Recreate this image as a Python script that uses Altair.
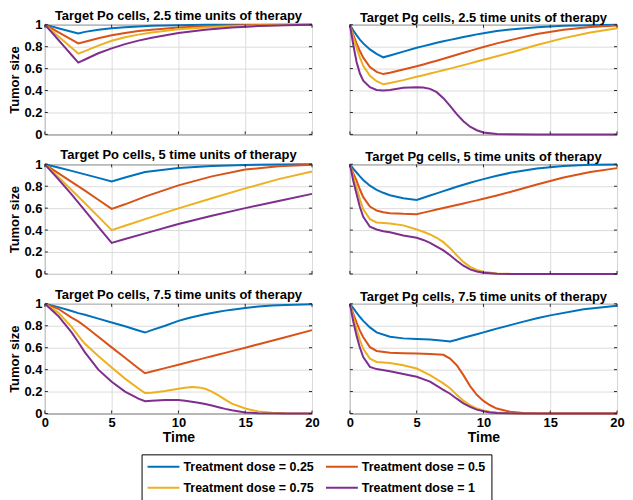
import altair as alt
import pandas as pd

FONT = "Liberation Sans"
W, H = 268, 110

doses = ["Treatment dose = 0.25", "Treatment dose = 0.5",
         "Treatment dose = 0.75", "Treatment dose = 1"]
colors = ["#0072BD", "#D95319", "#EDB120", "#7E2F8E"]

x_ticks = [0, 5, 10, 15, 20]
y_ticks = [0, 0.2, 0.4, 0.6, 0.8, 1]

titles = [
    "Target Po cells, 2.5 time units of therapy",
    "Target Pg cells, 2.5 time units of therapy",
    "Target Po cells, 5 time units of therapy",
    "Target Pg cells, 5 time units of therapy",
    "Target Po cells, 7.5 time units of therapy",
    "Target Pg cells, 7.5 time units of therapy",
]

# Panel A: Po, 2.5
tA = [0, 0.5, 1, 1.5, 2, 2.5, 3, 4, 5, 6, 7, 8, 10, 12, 14, 16, 18, 20]
A_025 = [1, 0.985, 0.968, 0.952, 0.936, 0.92, 0.935, 0.955, 0.968, 0.978, 0.985, 0.99, 0.996, 0.999, 1, 1, 1, 1]
A_05 = [1, 0.967, 0.933, 0.899, 0.865, 0.83, 0.845, 0.877, 0.904, 0.925, 0.942, 0.955, 0.974, 0.986, 0.993, 0.997, 0.999, 1]
A_075 = [1, 0.948, 0.895, 0.843, 0.79, 0.737, 0.76, 0.81, 0.854, 0.886, 0.91, 0.93, 0.958, 0.975, 0.986, 0.993, 0.997, 1]
A_1 = [1, 0.932, 0.863, 0.794, 0.724, 0.655, 0.683, 0.74, 0.785, 0.823, 0.855, 0.882, 0.925, 0.955, 0.975, 0.988, 0.995, 1]

# Panel B: Pg, 2.5
tB = [0, 0.25, 0.5, 0.75, 1, 1.5, 2, 2.5, 3, 4, 5, 5.5, 6, 6.5, 7, 7.5, 8, 8.5, 9, 9.5, 10, 11, 12, 14, 16, 18, 20]
B_025 = [1, 0.95, 0.905, 0.865, 0.83, 0.775, 0.735, 0.703, 0.72, 0.755, 0.79, 0.805, 0.82, 0.835, 0.85,
         0.862, 0.875, 0.888, 0.9, 0.912, 0.923, 0.942, 0.957, 0.978, 0.99, 0.996, 0.999]
B_05 = [1, 0.91, 0.83, 0.76, 0.70, 0.615, 0.57, 0.55, 0.562, 0.592, 0.622, 0.638, 0.655, 0.672, 0.69,
        0.708, 0.726, 0.744, 0.762, 0.78, 0.797, 0.83, 0.86, 0.915, 0.955, 0.98, 0.993]
B_075 = [1, 0.885, 0.79, 0.70, 0.625, 0.535, 0.485, 0.457, 0.468, 0.495, 0.525, 0.54, 0.555, 0.57, 0.585,
         0.6, 0.616, 0.632, 0.648, 0.664, 0.68, 0.712, 0.745, 0.815, 0.878, 0.93, 0.968]
B_1 = [1, 0.82, 0.66, 0.555, 0.49, 0.43, 0.405, 0.40, 0.405, 0.425, 0.43, 0.428, 0.415, 0.385, 0.33,
       0.26, 0.185, 0.12, 0.07, 0.038, 0.018, 0.004, 0.001, 0, 0, 0, 0]

# Panel C: Po, 5
tC = [0, 1, 2, 3, 4, 5, 6, 7.5, 10, 12.5, 15, 17.5, 20]
C_025 = [1, 0.97, 0.94, 0.908, 0.876, 0.843, 0.88, 0.93, 0.967, 0.985, 0.994, 0.998, 1]
C_05 = [1, 0.92, 0.84, 0.76, 0.677, 0.593, 0.635, 0.705, 0.808, 0.89, 0.952, 0.983, 0.995]
C_075 = [1, 0.885, 0.765, 0.645, 0.523, 0.40, 0.44, 0.50, 0.598, 0.69, 0.78, 0.865, 0.935]
C_1 = [1, 0.865, 0.725, 0.578, 0.43, 0.283, 0.318, 0.37, 0.455, 0.53, 0.6, 0.665, 0.73]

# Panel D: Pg, 5
tD = [0, 0.25, 0.5, 0.75, 1, 1.5, 2, 2.5, 3, 4, 5, 5.5, 6, 6.5, 7, 7.5, 8, 8.5, 9, 9.5, 10, 11, 12, 14, 16, 18, 20]
D_025 = [1, 0.96, 0.925, 0.89, 0.857, 0.805, 0.767, 0.74, 0.718, 0.69, 0.675, 0.695, 0.715, 0.735, 0.755,
         0.775, 0.795, 0.813, 0.831, 0.849, 0.865, 0.895, 0.922, 0.962, 0.985, 0.995, 0.999]
D_05 = [1, 0.92, 0.85, 0.77, 0.70, 0.615, 0.578, 0.562, 0.554, 0.548, 0.545, 0.559, 0.573, 0.587, 0.601,
        0.615, 0.629, 0.643, 0.657, 0.671, 0.685, 0.715, 0.747, 0.815, 0.88, 0.93, 0.965]
D_075 = [1, 0.89, 0.79, 0.68, 0.59, 0.50, 0.47, 0.465, 0.46, 0.443, 0.405, 0.385, 0.36, 0.33, 0.29,
         0.235, 0.17, 0.11, 0.065, 0.037, 0.02, 0.005, 0.001, 0, 0, 0, 0]
D_1 = [1, 0.85, 0.73, 0.61, 0.52, 0.43, 0.405, 0.39, 0.38, 0.35, 0.33, 0.31, 0.283, 0.25, 0.215,
       0.17, 0.12, 0.075, 0.042, 0.022, 0.01, 0.002, 0, 0, 0, 0, 0]

# Panel E: Po, 7.5
tE = [0, 1, 2, 2.5, 3, 4, 5, 6, 7, 7.5, 8, 9, 10, 10.5, 11, 11.5, 12, 12.5, 13, 13.5, 14, 15, 16, 17, 18, 20]
E_025 = [1, 0.97, 0.935, 0.915, 0.9, 0.865, 0.83, 0.795, 0.757, 0.738, 0.76, 0.8, 0.845, 0.862, 0.878,
         0.892, 0.905, 0.917, 0.928, 0.938, 0.947, 0.962, 0.975, 0.984, 0.99, 0.997]
E_05 = [1, 0.955, 0.875, 0.84, 0.795, 0.7, 0.603, 0.508, 0.413, 0.367, 0.383, 0.414, 0.445, 0.46, 0.476,
        0.491, 0.507, 0.522, 0.538, 0.553, 0.569, 0.6, 0.632, 0.664, 0.696, 0.76]
E_075 = [1, 0.92, 0.79, 0.71, 0.635, 0.525, 0.42, 0.318, 0.228, 0.187, 0.19, 0.205, 0.225, 0.235, 0.241,
         0.238, 0.225, 0.2, 0.165, 0.127, 0.09, 0.045, 0.018, 0.006, 0.002, 0]
E_1 = [1, 0.89, 0.74, 0.65, 0.557, 0.40, 0.29, 0.2, 0.135, 0.112, 0.116, 0.124, 0.123, 0.117, 0.108,
       0.098, 0.086, 0.072, 0.057, 0.042, 0.029, 0.01, 0.003, 0.001, 0, 0]

# Panel F: Pg, 7.5
tF = [0, 0.25, 0.5, 0.75, 1, 1.5, 2, 3, 4, 5, 6, 7, 7.5, 8, 8.5, 9, 9.5, 10, 10.5, 11, 12, 13, 14, 15, 17.5, 20]
F_025 = [1, 0.96, 0.92, 0.88, 0.845, 0.785, 0.74, 0.70, 0.685, 0.68, 0.674, 0.663, 0.656, 0.673, 0.69,
         0.707, 0.723, 0.74, 0.757, 0.774, 0.806, 0.838, 0.868, 0.895, 0.95, 0.983]
F_05 = [1, 0.91, 0.83, 0.755, 0.695, 0.605, 0.57, 0.554, 0.55, 0.548, 0.542, 0.535, 0.50, 0.44, 0.35,
        0.25, 0.17, 0.115, 0.075, 0.045, 0.015, 0.004, 0.001, 0, 0, 0]
F_075 = [1, 0.88, 0.77, 0.67, 0.59, 0.50, 0.47, 0.46, 0.44, 0.41, 0.35, 0.275, 0.23, 0.17, 0.117,
         0.075, 0.045, 0.027, 0.015, 0.008, 0.002, 0, 0, 0, 0, 0]
F_1 = [1, 0.84, 0.71, 0.6, 0.515, 0.425, 0.405, 0.386, 0.36, 0.335, 0.29, 0.215, 0.18, 0.135, 0.093,
       0.06, 0.035, 0.02, 0.01, 0.005, 0.001, 0, 0, 0, 0, 0]

panels_data = [
    (tA, [A_025, A_05, A_075, A_1]),
    (tB, [B_025, B_05, B_075, B_1]),
    (tC, [C_025, C_05, C_075, C_1]),
    (tD, [D_025, D_05, D_075, D_1]),
    (tE, [E_025, E_05, E_075, E_1]),
    (tF, [F_025, F_05, F_075, F_1]),
]

legend = alt.Legend(
    orient="none", legendX=97, legendY=431, columns=2, direction="horizontal",
    title=None, symbolType="stroke", symbolSize=1024, symbolStrokeWidth=2,
    clipHeight=15, labelFont=FONT, labelFontSize=12.5, labelFontWeight="bold",
    labelColor="black", strokeColor="black", fillColor="white",
    padding=5, rowPadding=6, columnPadding=11, labelOffset=3,
)

TICK = "#262626"


def make_panel(idx):
    t, series = panels_data[idx]
    show_x = idx >= 4
    show_y = idx % 2 == 0
    rows = []
    for dose, vals in zip(doses, series):
        for tt, vv in zip(t, vals):
            rows.append({"t": tt, "v": vv, "dose": dose})
    df = pd.DataFrame(rows)

    xscale = alt.Scale(domain=[0, 20], nice=False, zero=False)
    yscale = alt.Scale(domain=[0, 1], nice=False)

    xkw = dict(values=x_ticks, labels=show_x, grid=True, labelFlush=False,
               labelPadding=3, titlePadding=1, titleFontSize=14)
    xkw["title"] = "Time" if show_x else None
    ykw = dict(values=y_ticks, labels=show_y, grid=True, format="~g",
               labelPadding=3, titlePadding=2, titleFontSize=13)
    ykw["title"] = "Tumor size" if show_y else None

    def X():
        return alt.X("t:Q", scale=xscale, axis=alt.Axis(**xkw))

    def Y():
        return alt.Y("v:Q", scale=yscale, axis=alt.Axis(**ykw))

    lines = alt.Chart(df).mark_line(strokeWidth=2).encode(
        x=X(), y=Y(),
        color=alt.Color("dose:N", scale=alt.Scale(domain=doses, range=colors),
                        legend=legend),
    )

    xt = pd.DataFrame({"t": x_ticks})
    yt = pd.DataFrame({"v": y_ticks})
    xb = alt.Chart(xt).mark_rule(color=TICK, strokeWidth=1).encode(
        x=X(), y=alt.value(H), y2=alt.value(H - 3))
    xtp = alt.Chart(xt).mark_rule(color=TICK, strokeWidth=1).encode(
        x=X(), y=alt.value(0), y2=alt.value(3))
    yl = alt.Chart(yt).mark_rule(color=TICK, strokeWidth=1).encode(
        y=Y(), x=alt.value(0), x2=alt.value(3))
    yr = alt.Chart(yt).mark_rule(color=TICK, strokeWidth=1).encode(
        y=Y(), x=alt.value(W), x2=alt.value(W - 3))

    return alt.layer(lines, xb, xtp, yl, yr).properties(
        width=W, height=H,
        title=alt.TitleParams(text=titles[idx], font=FONT, fontSize=13,
                              fontWeight="bold", color="black",
                              anchor="middle", offset=-4, frame="group"),
    )


panels = [make_panel(i) for i in range(6)]

chart = alt.concat(
    *panels, columns=2, spacing={"row": 30, "column": 38}, bounds="flush"
).resolve_scale(
    x="independent", y="independent", color="shared"
).properties(
    padding={"left": 0, "top": 0, "right": 0, "bottom": 0}
).configure_view(
    stroke=TICK, strokeWidth=1
).configure_axis(
    domain=False, ticks=False, gridColor="#dcdcdc", gridWidth=1,
    labelFont=FONT, labelFontSize=13, labelFontWeight="bold", labelColor="black",
    titleFont=FONT, titleFontWeight="bold", titleColor="black",
)

chart.save("out.html", embed_options={"renderer": "svg", "actions": False})
